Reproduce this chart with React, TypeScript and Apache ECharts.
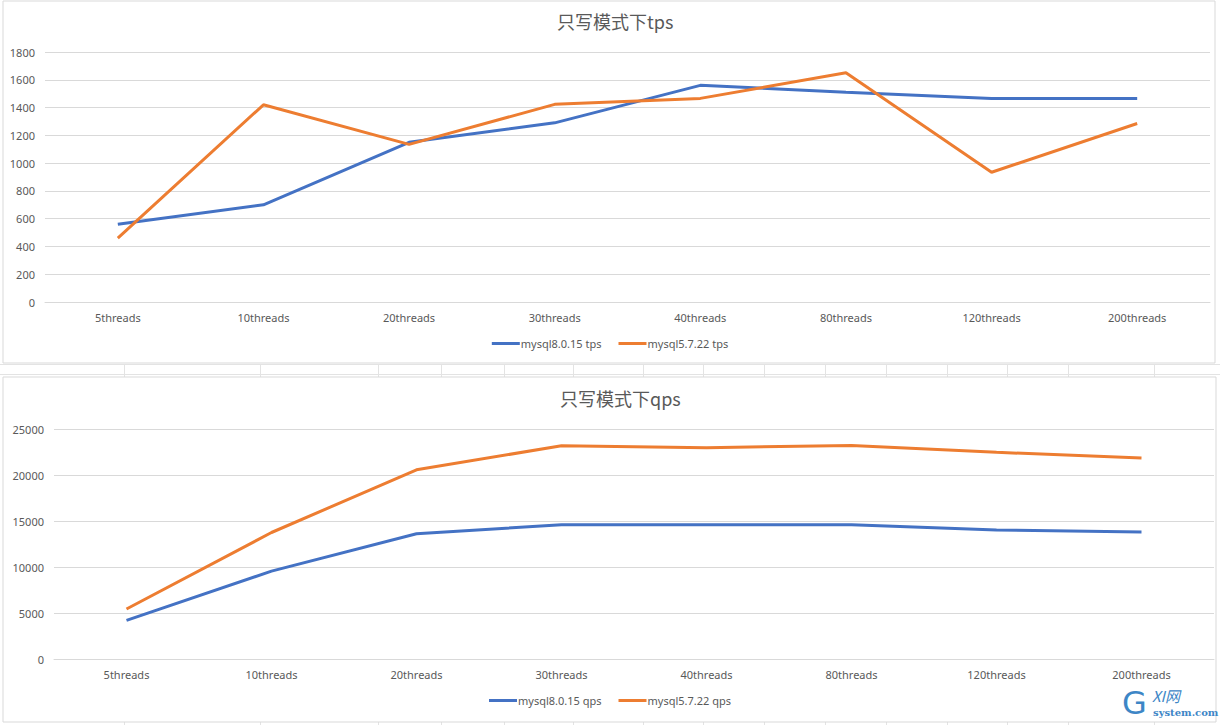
import React, { useEffect, useRef } from "react";
import * as echarts from "echarts";

const categories = ["5threads", "10threads", "20threads", "30threads", "40threads", "80threads", "120threads", "200threads"];
const tps80 = [560, 700, 1150, 1290, 1560, 1510, 1466, 1466];
const tps57 = [460, 1420, 1135, 1423, 1466, 1650, 934, 1285];
const qps80 = [4200, 9550, 13620, 14600, 14600, 14600, 14020, 13800];
const qps57 = [5430, 13750, 20560, 23180, 22970, 23200, 22460, 21850];
const titles = ["只写模式下tps", "只写模式下qps"];
const seriesNames = ["mysql8.0.15 tps", "mysql5.7.22 tps", "mysql8.0.15 qps", "mysql5.7.22 qps"];

const BLUE = "#4472C4";
const ORANGE = "#ED7D31";
const TXT = "#595959";
const GRIDC = "#d9d9d9";
const FONT = "'Noto Sans', 'Noto Sans CJK SC', sans-serif";

export default function App() {
  const ref = useRef<HTMLDivElement>(null);
  useEffect(() => {
    if (!ref.current) return;
    const chart = echarts.init(ref.current, null, { renderer: "svg" });
    const cellXs = [124, 260, 378, 441, 504, 573, 643, 703, 764, 825, 886, 947, 1007, 1068, 1154];
    const decor: any[] = [
      { type: "rect", shape: { x: 3, y: 1, width: 1212, height: 362 }, style: { fill: "#fff", stroke: GRIDC, lineWidth: 1 }, z: -10 },
      { type: "rect", shape: { x: 3, y: 377, width: 1213, height: 345 }, style: { fill: "#fff", stroke: GRIDC, lineWidth: 1 }, z: -10 },
      { type: "line", shape: { x1: 0, y1: 364.5, x2: 1220, y2: 364.5 }, style: { stroke: "#e3e3e3", lineWidth: 1 }, z: -11 },
      { type: "line", shape: { x1: 0, y1: 374.5, x2: 1220, y2: 374.5 }, style: { stroke: "#e3e3e3", lineWidth: 1 }, z: -11 },
    ];
    cellXs.forEach((x) => {
      decor.push({ type: "line", shape: { x1: x + 0.5, y1: 364, x2: x + 0.5, y2: 377 }, style: { stroke: "#e3e3e3", lineWidth: 1 }, z: -11 });
      decor.push({ type: "line", shape: { x1: x + 0.5, y1: 722, x2: x + 0.5, y2: 725 }, style: { stroke: "#e3e3e3", lineWidth: 1 }, z: -11 });
    });
    decor.push({
      type: "text", x: 1122, y: 687,
      style: { text: "G", fill: "#3d86c6", font: "32px 'DejaVu Sans', sans-serif" }, z: 50,
    });
    decor.push({
      type: "text", x: 1152, y: 688,
      style: { text: "XI网", fill: "#3d86c6", font: "italic 15px 'Noto Sans CJK SC', sans-serif" }, z: 50,
    });
    decor.push({
      type: "text", x: 1153, y: 707,
      style: { text: "system.com", fill: "#3d86c6", font: "bold 10px 'DejaVu Serif', serif" }, z: 50,
    });

    const axisLabel = { color: TXT, fontSize: 11, fontFamily: FONT };
    const titleStyle = { color: TXT, fontSize: 18, fontWeight: "normal", fontFamily: "'Noto Sans CJK SC', sans-serif" };
    const option: any = {
      animation: false,
      backgroundColor: "#ffffff",
      title: [
        { text: titles[0], left: 552, top: 7, textStyle: titleStyle },
        { text: titles[1], left: 555, top: 384, textStyle: titleStyle },
      ],
      legend: [
        {
          data: [seriesNames[0], seriesNames[1]], left: "center", top: 333, icon: "rect",
          itemWidth: 28, itemHeight: 3, itemGap: 17, textStyle: { color: TXT, fontSize: 11, fontFamily: FONT, padding: [0, 0, 0, -4] },
        },
        {
          data: [seriesNames[2], seriesNames[3]], left: "center", top: 690, icon: "rect",
          itemWidth: 28, itemHeight: 3, itemGap: 17, textStyle: { color: TXT, fontSize: 11, fontFamily: FONT, padding: [0, 0, 0, -4] },
        },
      ],
      grid: [
        { left: 45, width: 1165, top: 52, height: 250 },
        { left: 54, width: 1160, top: 429, height: 230 },
      ],
      xAxis: [0, 1].map((i) => ({
        type: "category", gridIndex: i, data: categories, boundaryGap: true,
        axisLine: { lineStyle: { color: GRIDC } }, axisTick: { show: false },
        axisLabel: { ...axisLabel, margin: 10 },
      })),
      yAxis: [
        { type: "value", gridIndex: 0, min: 0, max: 1800, interval: 200, axisLine: { show: false }, axisTick: { show: false },
          splitLine: { lineStyle: { color: GRIDC } }, axisLabel: { ...axisLabel, margin: 10, formatter: (v: number) => String(v) } },
        { type: "value", gridIndex: 1, min: 0, max: 25000, interval: 5000, axisLine: { show: false }, axisTick: { show: false },
          splitLine: { lineStyle: { color: GRIDC } }, axisLabel: { ...axisLabel, margin: 10, formatter: (v: number) => String(v) } },
      ],
      series: [
        { name: seriesNames[0], type: "line", xAxisIndex: 0, yAxisIndex: 0, data: tps80, symbol: "none", color: BLUE, lineStyle: { width: 3, color: BLUE } },
        { name: seriesNames[1], type: "line", xAxisIndex: 0, yAxisIndex: 0, data: tps57, symbol: "none", color: ORANGE, lineStyle: { width: 3, color: ORANGE } },
        { name: seriesNames[2], type: "line", xAxisIndex: 1, yAxisIndex: 1, data: qps80, symbol: "none", color: BLUE, lineStyle: { width: 3, color: BLUE } },
        { name: seriesNames[3], type: "line", xAxisIndex: 1, yAxisIndex: 1, data: qps57, symbol: "none", color: ORANGE, lineStyle: { width: 3, color: ORANGE } },
      ],
      graphic: decor,
    };
    chart.setOption(option);
    return () => chart.dispose();
  }, []);
  return <div ref={ref} style={{ position: "fixed", left: 0, top: 0, width: 1220, height: 725 }} />;
}
